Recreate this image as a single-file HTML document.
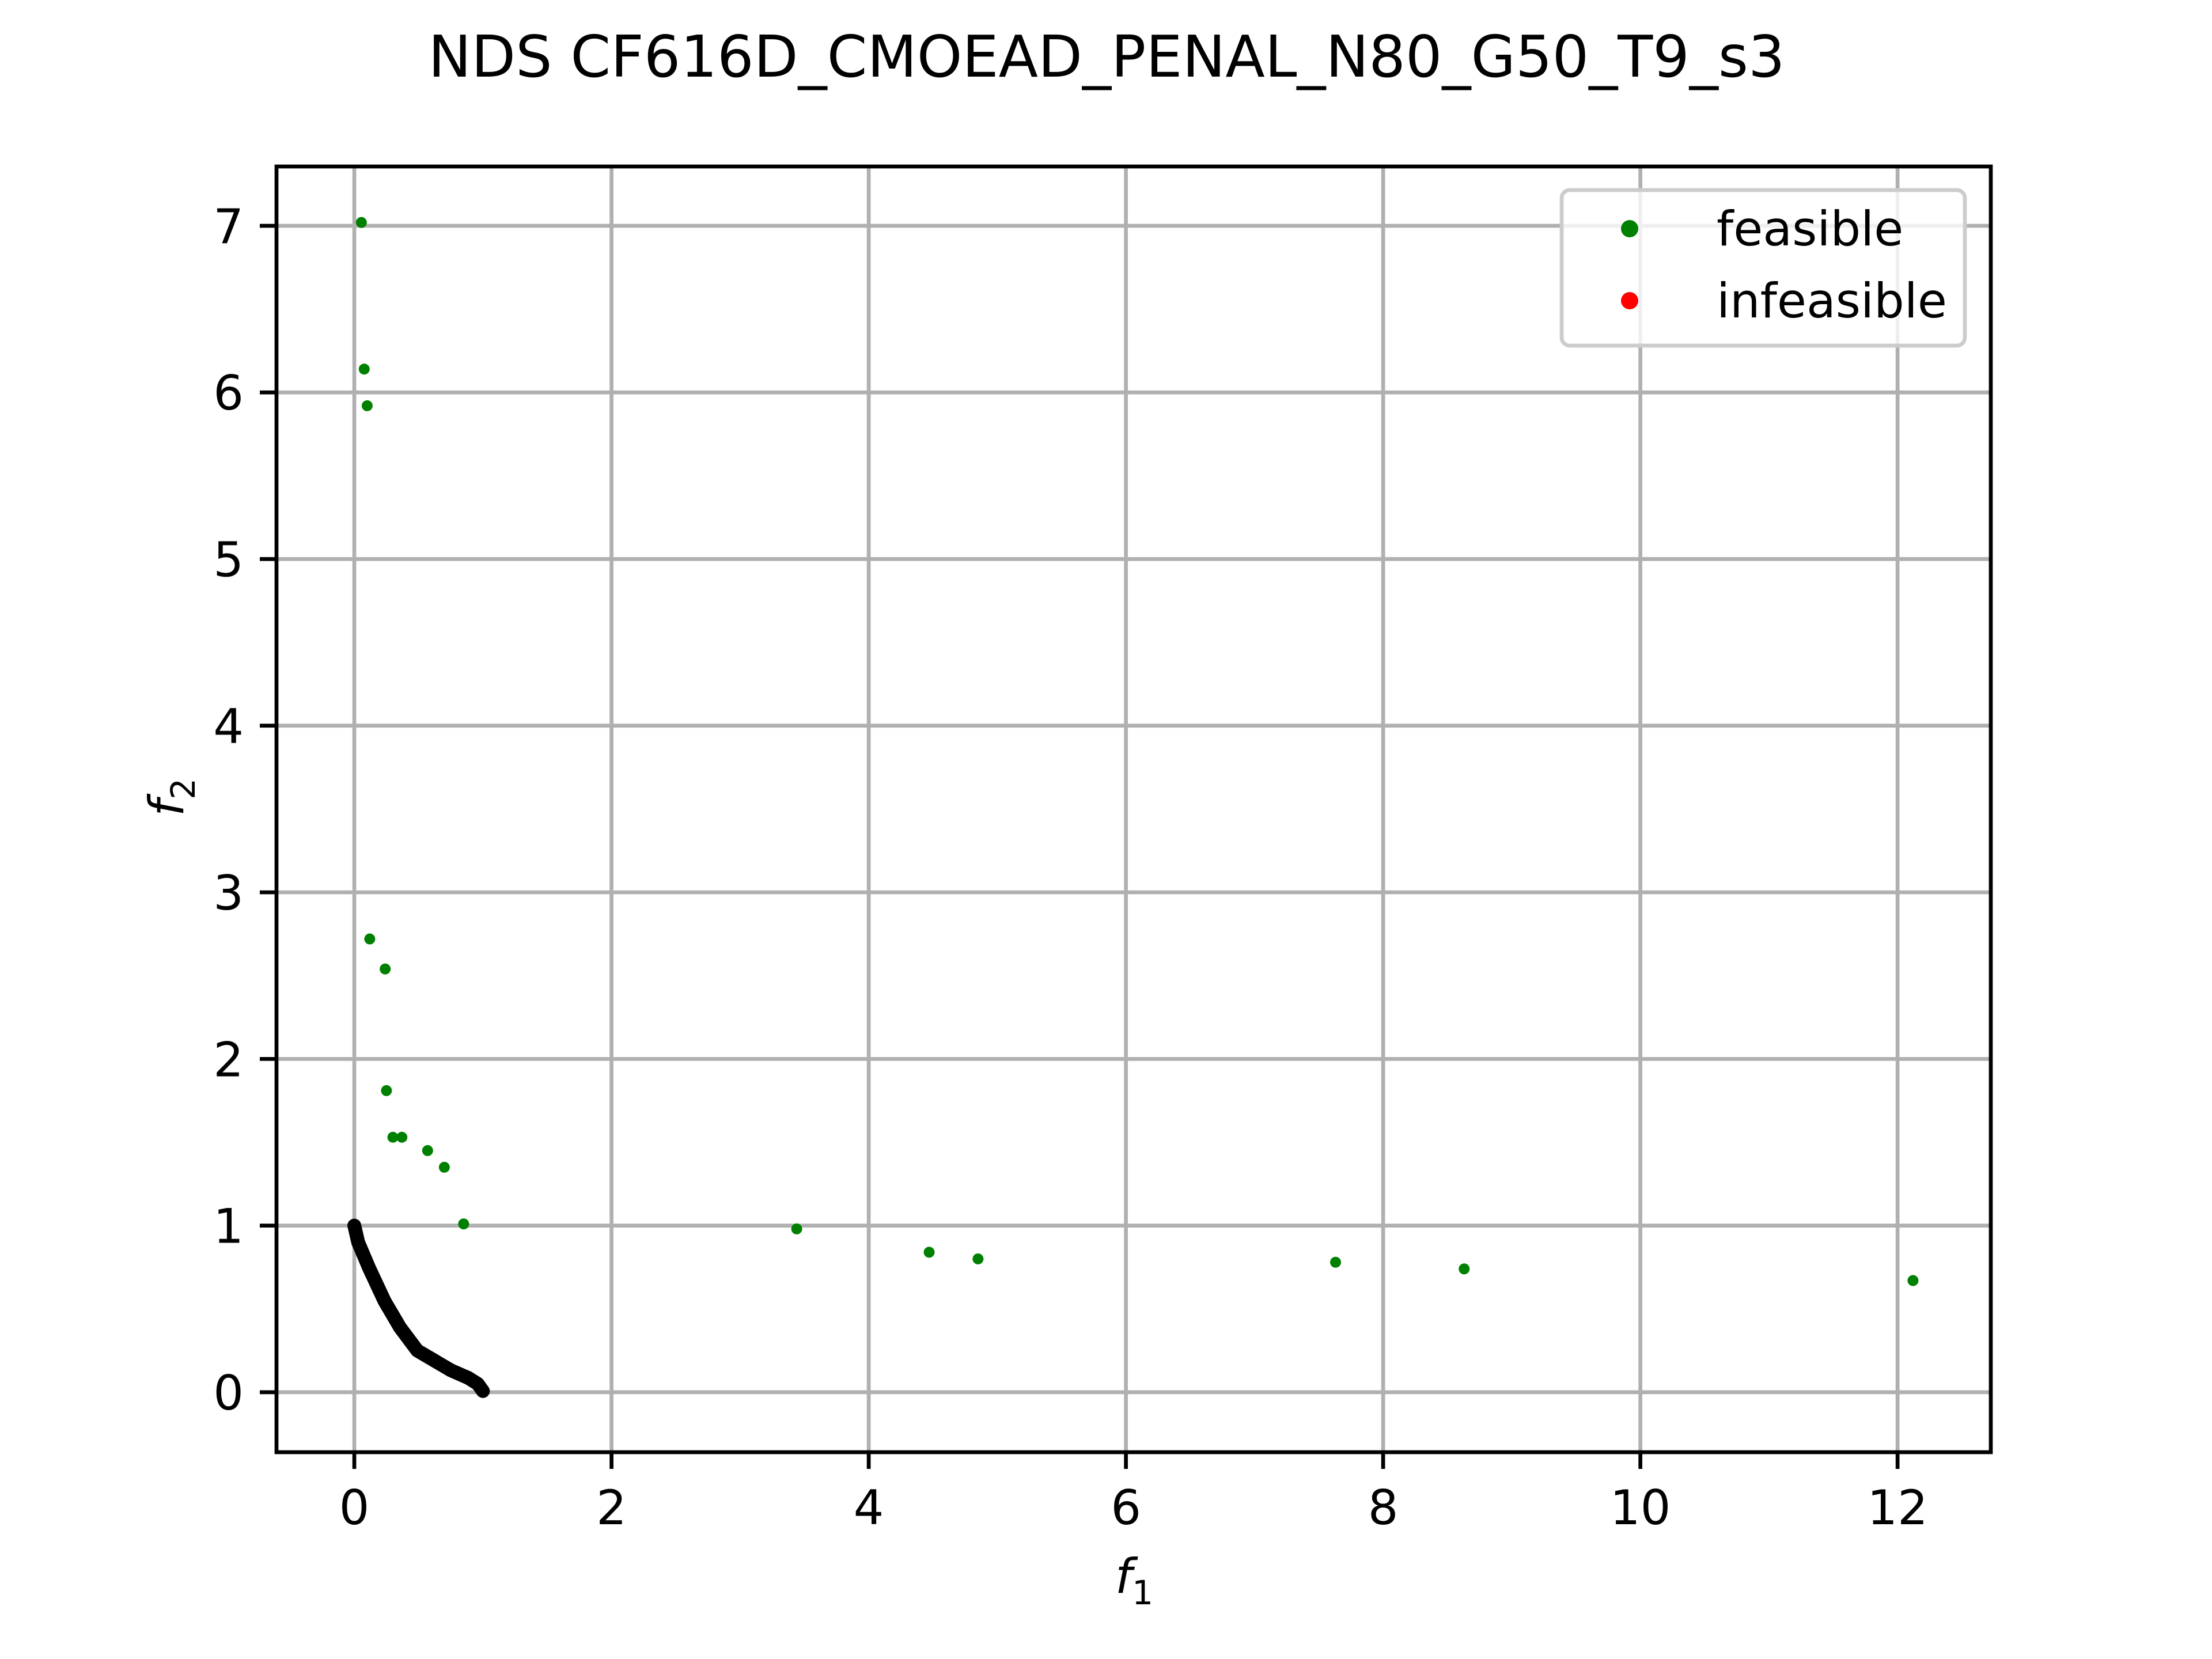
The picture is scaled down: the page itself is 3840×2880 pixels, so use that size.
<!DOCTYPE html>
<html><head><meta charset="utf-8"><style>
html,body{margin:0;padding:0;background:#fff}
svg{display:block}
text{font-family:"DejaVu Sans","Liberation Sans",sans-serif;fill:#000}
</style></head><body>
<svg id="chart" width="3840" height="2880" viewBox="0 0 3840 2880" xmlns="http://www.w3.org/2000/svg">
<rect width="3840" height="2880" fill="#fff"/>
<text x="1921" y="133" font-size="100" text-anchor="middle">NDS CF616D_CMOEAD_PENAL_N80_G50_T9_s3</text>
<g id="grid"></g>
<g id="front"></g>
<g id="pts"></g>
<rect x="480" y="289" width="2976" height="2232" fill="none" stroke="#000" stroke-width="6.7"/>
<g id="ticks"></g>
<text x="1969" y="2765" font-size="83" font-style="italic" text-anchor="middle">f<tspan font-size="58" dy="20" font-style="normal">1</tspan></text>
<text x="0" y="0" font-size="83" font-style="italic" text-anchor="middle" transform="translate(318,1384) rotate(-90)">f<tspan font-size="58" dy="20" font-style="normal">2</tspan></text>
<g>
<rect x="2711" y="330" width="700" height="270" rx="14" fill="#fff" fill-opacity="0.8" stroke="#ccc" stroke-width="6.7"/>
<circle cx="2829" cy="397" r="15" fill="#008000"/>
<text x="2980" y="426" font-size="83">feasible</text>
<circle cx="2829" cy="522" r="15" fill="#ff0000"/>
<text x="2980" y="551" font-size="83">infeasible</text>
</g>
</svg>
<script>
const xTicks = [0, 2, 4, 6, 8, 10, 12];
const yTicks = [0, 1, 2, 3, 4, 5, 6, 7];
const feasX = [0.055, 0.077, 0.10, 0.12, 0.24, 0.25, 0.30, 0.37, 0.57, 0.70, 0.85, 3.44, 4.47, 4.85, 7.63, 8.63, 12.12];
const feasY = [7.02, 6.14, 5.92, 2.72, 2.54, 1.81, 1.53, 1.53, 1.45, 1.35, 1.01, 0.98, 0.84, 0.80, 0.78, 0.74, 0.67];
const frontX = [0, 0.03, 0.115, 0.235, 0.355, 0.49, 0.75, 0.886, 0.96, 1.0];
const frontY = [1, 0.90, 0.745, 0.547, 0.389, 0.25, 0.132, 0.086, 0.05, 0.007];

const L=480,R=3456,T=289,B=2521;
const XMIN=-0.605,XMAX=12.725,YMIN=-0.36,YMAX=7.356;
const sx=v=>L+(v-XMIN)/(XMAX-XMIN)*(R-L);
const sy=v=>B-(v-YMIN)/(YMAX-YMIN)*(B-T);
const NS='http://www.w3.org/2000/svg';
const mk=(t,a,p)=>{const e=document.createElementNS(NS,t);for(const k in a)e.setAttribute(k,a[k]);p.appendChild(e);return e;};
const grid=document.getElementById('grid'),ticks=document.getElementById('ticks');
xTicks.forEach(v=>{
  const x=sx(v);
  const g=mk('line',{x1:x,x2:x,y1:T,y2:B,stroke:'#b0b0b0','stroke-width':6.7},grid);
  
  
  const t=mk('line',{x1:x,x2:x,y1:B,y2:B+29,stroke:'#000','stroke-width':6.7},ticks);
  
  
  const l=mk('text',{x:x,y:B+125,'font-size':83,'text-anchor':'middle'},ticks);
  l.textContent=v;
  
  
});
yTicks.forEach(v=>{
  const y=sy(v);
  const g=mk('line',{x1:L,x2:R,y1:y,y2:y,stroke:'#b0b0b0','stroke-width':6.7},grid);
  
  
  const t=mk('line',{x1:L-29,x2:L,y1:y,y2:y,stroke:'#000','stroke-width':6.7},ticks);
  
  
  const l=mk('text',{x:L-57,y:y+30,'font-size':83,'text-anchor':'end'},ticks);
  l.textContent=v;
  
  
});
const fr=document.getElementById('front');
const pl=mk('polyline',{points:frontX.map((v,i)=>sx(v)+','+sy(frontY[i])).join(' '),fill:'none',stroke:'#000','stroke-width':24,'stroke-linecap':'round','stroke-linejoin':'round'},fr);


const pts=document.getElementById('pts');
feasX.forEach((v,i)=>{
  const c=mk('circle',{cx:sx(v),cy:sy(feasY[i]),r:9.5,fill:'#008000'},pts);
  
  
});
</script>
</body></html>
